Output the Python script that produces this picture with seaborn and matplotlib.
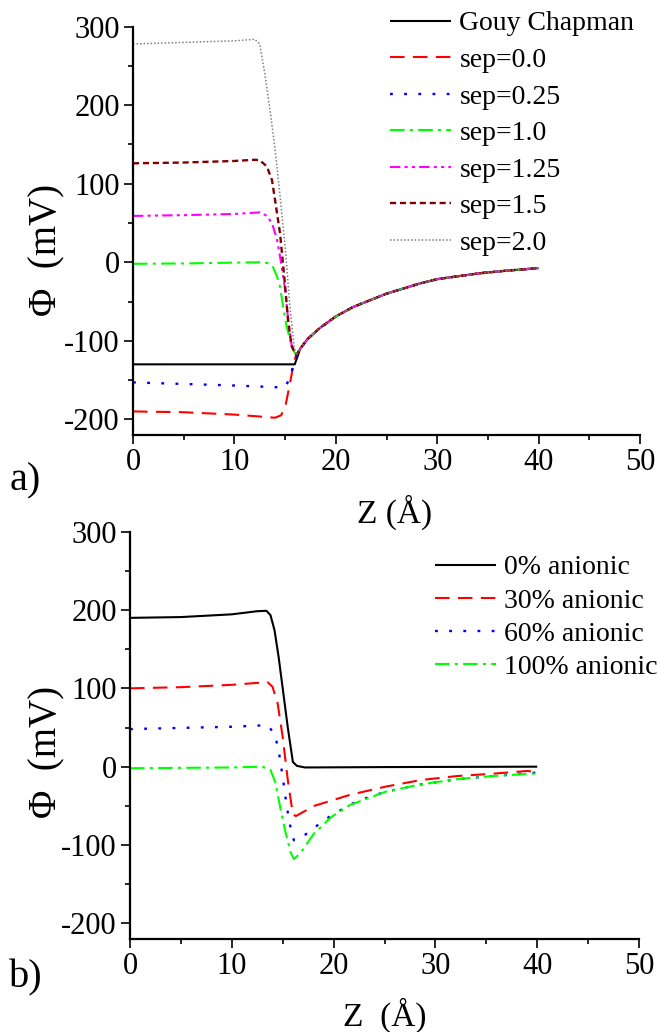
import matplotlib
matplotlib.use("Agg")
import matplotlib.pyplot as plt
import seaborn as sns
import numpy as np

# ---------------- panel a) : separation series ----------------
tail_z = [16.5, 17.2, 18.4, 20.0, 21.7, 25.0, 28.3, 30.0, 34.2, 37.0, 40.0]
tail_v = [-110, -98, -84, -69, -57, -40, -27, -21.5, -14, -10.5, -7.5]

gc_z = [0, 5, 10, 15, 15.95] + tail_z
gc_v = [-130, -130, -130, -130, -130] + tail_v

sep00_z = [0, 5, 10, 13, 14.0, 14.6, 15.0, 15.5, 15.85, 16.1] + tail_z
sep00_v = [-190, -191, -194, -197, -198, -195, -185, -153, -128, -118] + tail_v

sep025_z = [0, 5, 10, 14, 14.9, 15.4, 15.8, 16.1] + tail_z
sep025_v = [-153, -155, -157, -159, -160, -150, -132, -120] + tail_v

sep10_z = [0, 5, 10, 12.5, 13.3, 13.8, 14.2, 14.5, 14.8, 15.15, 15.5, 15.8, 16.1] + tail_z
sep10_v = [-2, -1.5, -0.5, 0, -1, -6, -18, -31, -56, -82, -99, -112, -118] + tail_v

sep125_z = [0, 5, 10, 12.5, 13.3, 13.8, 14.2, 14.6, 15.0, 15.3, 15.65, 16.1] + tail_z
sep125_v = [59, 60, 61.5, 63.5, 58.5, 46, 29, 0, -35, -72, -106, -118] + tail_v

sep15_z = [0, 5, 10, 12, 12.5, 13.2, 13.7, 14.0, 14.5, 15.0, 15.3, 15.65, 16.1] + tail_z
sep15_v = [126, 127, 129, 130.5, 130, 122, 105, 80, 37, -30, -75, -107, -118] + tail_v

sep20_z = [0, 5, 10, 12, 12.5, 13.0, 13.5, 14.0, 14.5, 15.0, 15.5, 15.9, 16.1] + tail_z
sep20_v = [278, 280, 282, 284, 278, 240, 195, 145, 85, 20, -60, -108, -118] + tail_v

labels_a = ["Gouy Chapman", "sep=0.0", "sep=0.25", "sep=1.0",
            "sep=1.25", "sep=1.5", "sep=2.0"]

# ---------------- panel b) : anionic fraction series ----------------
an0_z = [0, 5, 10, 12.5, 13.4, 13.8, 14.2, 14.6, 15.0, 15.5, 16.0, 16.4, 17.2, 25, 40]
an0_v = [190, 191, 194.5, 198.5, 199, 193.5, 174, 140, 100, 50, 6, 1, -1, -0.5, 0]

an30_z = [0, 5, 10, 13.5, 14.0, 14.5, 15.0, 15.5, 16.0, 16.3, 18.1, 21.6, 25.1, 28.6, 32.1, 35.6, 39, 40]
an30_v = [100, 101.5, 104.5, 108, 102, 81, 38, -17, -61, -63, -50, -36, -25.5, -17, -12, -9, -5.5, -6.5]

an60_z = [0, 5, 10, 13.5, 14.2, 14.6, 15.0, 15.4, 15.8, 16.1, 17.0, 18.1, 19.1, 20.2, 22.3, 25.1, 28.6, 32.1, 35.6, 40]
an60_v = [48, 49.5, 51, 53, 42, 21, -13, -51, -80, -94, -89, -78, -68, -59, -44, -32, -22.5, -16, -12, -7.5]

an100_z = [0, 5, 10, 13, 13.8, 14.3, 14.8, 15.3, 15.8, 16.1, 16.7, 18.1, 19.8, 21.6, 25.1, 28.6, 32.1, 35.6, 40]
an100_v = [-2, -1.5, -1, 0, -4, -21, -55, -85, -110, -118, -111, -85, -64, -49, -32, -22.5, -16, -12, -8.5]

labels_b = ["0% anionic", "30% anionic", "60% anionic", "100% anionic"]

x_ticks = [0, 10, 20, 30, 40, 50]
y_ticks = [-200, -100, 0, 100, 200, 300]

# ---------------- styling ----------------
sns.set_style("ticks")
plt.rcParams["font.family"] = ["Liberation Serif", "DejaVu Serif"]
plt.rcParams["axes.unicode_minus"] = False
plt.rcParams["text.color"] = "black"
plt.rcParams["axes.labelcolor"] = "black"
plt.rcParams["xtick.color"] = "black"
plt.rcParams["ytick.color"] = "black"

W, H = 657, 1032
fig = plt.figure(figsize=(W / 100, H / 100), dpi=100)

ax1 = fig.add_axes([133 / W, 1 - 435 / H, (640 - 133) / W, (435 - 26.7) / H])
ax2 = fig.add_axes([130 / W, 1 - 939 / H, (639 - 130) / W, (939 - 531.7) / H])

styles_a = [
    ("black", (0, ()), 1.5),
    ("#ff0000", (0, (7, 4)), 1.5),
    ("#0000ff", (0, (1.2, 4.8)), 1.7),
    ("#00ff00", (0, (7, 2.5, 1.5, 2.5)), 1.5),
    ("#ff00ff", (0, (5, 2, 1.5, 2, 1.5, 2)), 1.5),
    ("#800000", (0, (2.6, 1.6)), 1.7),
    ("#808080", (0, (1, 1.3)), 1.1),
]
series_a = [(gc_z, gc_v), (sep00_z, sep00_v), (sep025_z, sep025_v),
            (sep10_z, sep10_v), (sep125_z, sep125_v), (sep15_z, sep15_v),
            (sep20_z, sep20_v)]

series_b = [(an0_z, an0_v), (an30_z, an30_v), (an60_z, an60_v), (an100_z, an100_v)]
styles_b = styles_a[:4]

for (z, v), lab, (c, ls, lw) in zip(series_a, labels_a, styles_a):
    sns.lineplot(x=z, y=v, ax=ax1, color=c, linestyle=ls, linewidth=lw,
                 label=lab, estimator=None, sort=False)

for (z, v), lab, (c, ls, lw) in zip(series_b, labels_b, styles_b):
    sns.lineplot(x=z, y=v, ax=ax2, color=c, linestyle=ls, linewidth=lw,
                 label=lab, estimator=None, sort=False)

for ax in (ax1, ax2):
    ax.set_xlim(0, 50)
    ax.set_ylim(-220, 300)
    ax.set_xticks(x_ticks)
    ax.set_yticks(y_ticks)
    ax.set_xticks(np.arange(5, 50, 10), minor=True)
    ax.set_yticks(np.arange(-150, 300, 100), minor=True)
    ax.tick_params(which="major", direction="out", length=6.5, width=1.2,
                   labelsize=22, pad=3, color="black", labelcolor="black")
    ax.tick_params(which="minor", direction="out", length=3.5, width=1.2,
                   color="black")
    for side in ("top", "right"):
        ax.spines[side].set_visible(False)
    for side in ("left", "bottom"):
        ax.spines[side].set_linewidth(1.6)
        ax.spines[side].set_color("black")
    ax.set_ylabel("\u03a6  (mV)", fontsize=28, va="center", color="black")

ax1.yaxis.set_label_coords((47 - 133) / 507, (435 - 250) / 408.3)
ax2.yaxis.set_label_coords((47 - 130) / 509, (939 - 752) / 407.3)

ax1.set_xlabel("Z (\u00c5)", fontsize=24, va="center", color="black")
ax1.xaxis.set_label_coords((395 - 133) / 507, (435 - 512) / 408.3)
ax2.set_xlabel("Z  (\u00c5)", fontsize=24, va="center", color="black")
ax2.xaxis.set_label_coords((385 - 130) / 509, (939 - 1015) / 407.3)

leg1 = ax1.legend(loc="upper left", bbox_to_anchor=(390 / W, 1 - 11 / H),
                  bbox_transform=fig.transFigure, frameon=False, fontsize=20,
                  handlelength=2.2, handletextpad=0.3, labelspacing=0.40,
                  borderpad=0, borderaxespad=0, labelcolor="black")
leg2 = ax2.legend(loc="upper left", bbox_to_anchor=(435 / W, 1 - 555 / H),
                  bbox_transform=fig.transFigure, frameon=False, fontsize=20,
                  handlelength=2.2, handletextpad=0.3, labelspacing=0.28,
                  borderpad=0, borderaxespad=0, labelcolor="black")

fig.text(25 / W, 1 - 481 / H, "a)", fontsize=29, ha="center", va="center",
         color="black")
fig.text(26 / W, 1 - 978 / H, "b)", fontsize=29, ha="center", va="center",
         color="black")

fig.savefig("out.png", dpi=100, facecolor="white")
